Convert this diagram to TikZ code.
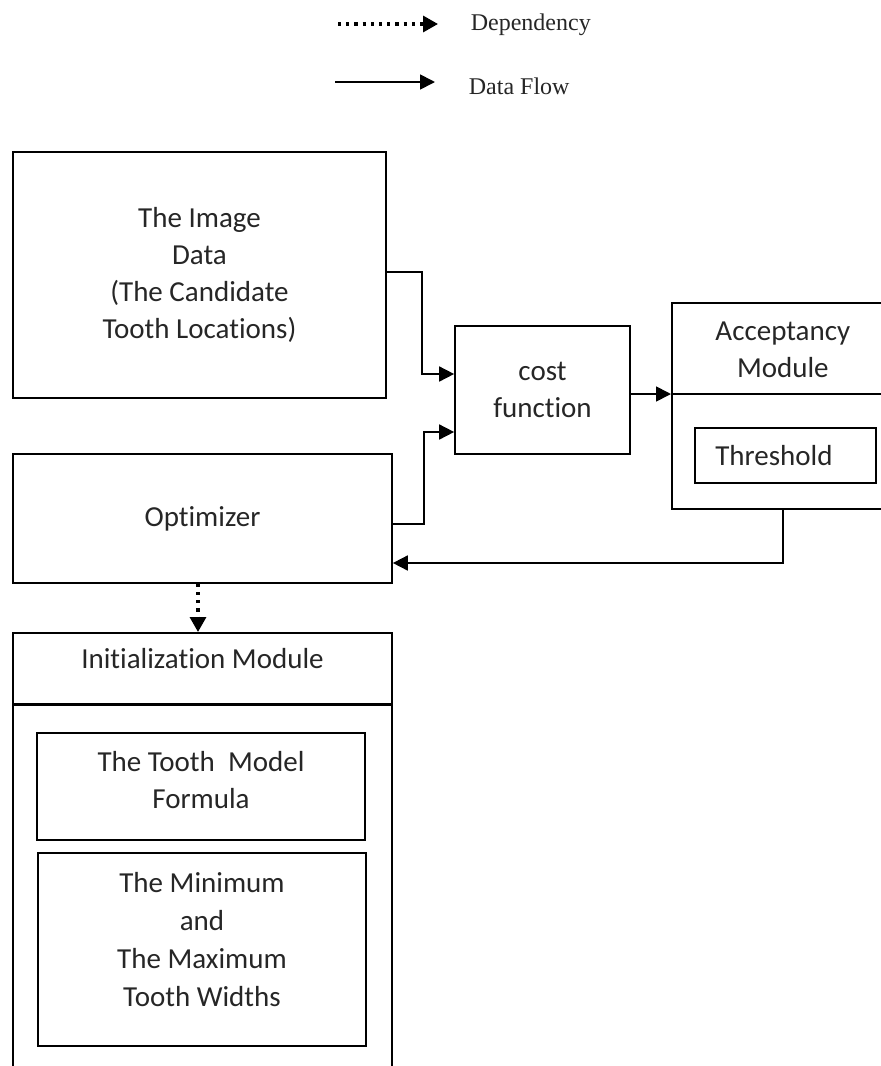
\documentclass[tikz,border=0pt]{standalone}
\usepackage{fontspec}
\setmainfont{Carlito}[Ligatures=NoCommon]
\newfontfamily\legendfont{Liberation Serif}
\usetikzlibrary{arrows.meta}
\begin{document}
\begin{tikzpicture}[x=1pt,y=-1pt,
  line width=1.7pt,
  box/.style={draw, rectangle, inner sep=0pt},
  lbl/.style={font=\fontsize{29}{37}\selectfont, align=center, inner sep=0pt, text=black!85},
  flow/.style={-{Triangle[length=15pt,width=15pt]}},
  dep/.style={-{Triangle[length=15pt,width=16pt]}, line width=3.2pt, dash pattern=on 3.2pt off 5pt},
  legtxt/.style={font=\legendfont\fontsize{24}{28}\selectfont, anchor=base west, inner sep=0pt, text=black!85}
]
\useasboundingbox (0,0) rectangle (881,1066);
\begin{scope}
\clip (0,0) rectangle (881,1066);

% legend
\coordinate (depA) at (338,24);
\coordinate (depB) at (438,24);
\draw[dep] (depA) -- (depB);
\node[legtxt] (deptxt) at (470,30) {Dependency};
\coordinate (flA) at (335,82);
\coordinate (flB) at (435,82);
\draw[flow] (flA) -- (flB);
\node[legtxt] (fltxt) at (468,94) {Data Flow};

% image data
\node[box, lbl, minimum width=373pt, minimum height=246pt] (img) at (199.5,275)
  {The Image\\Data\\(The Candidate\\Tooth Locations)};

% cost function
\node[box, lbl, minimum width=175pt, minimum height=128pt] (cost) at (542.5,390)
  {cost\\function};

% optimizer
\node[box, lbl, minimum width=379pt, minimum height=129pt] (opt) at (202.5,518.5)
  {Optimizer};

% acceptancy module (runs off the right edge)
\node[box, minimum width=222pt, minimum height=206pt, anchor=north west] (acc) at (671,302) {};
\draw ([yshift=-92pt]acc.north west) -- ([yshift=-92pt]acc.north east);
\node[lbl] (acctxt) at ([yshift=-48pt]acc.north) {Acceptancy\\Module};
\node[box, minimum width=181pt, minimum height=55pt] (thr) at (785.5,455.5) {};
\node[lbl] (thrtxt) at ([xshift=-11.5pt]thr.center) {Threshold};

% initialization module (runs off the bottom edge)
\node[box, minimum width=379pt, minimum height=520pt, anchor=north] (init) at (202.5,632) {};
\draw[line width=3pt] ([yshift=-72pt]init.north west) -- ([yshift=-72pt]init.north east);
\node[lbl] (inittxt) at ([yshift=-27pt]init.north) {Initialization Module};

\node[box, minimum width=328pt, minimum height=107pt] (tooth) at (201,786.5) {};
\node[lbl] (toothtxt) at ([yshift=6.5pt]tooth.center) {The Tooth\ \ Model\\Formula};

\node[box, minimum width=328pt, minimum height=193pt] (minmax) at (202,949.5) {};
\node[lbl, font=\fontsize{29}{38.3}\selectfont] (minmaxtxt) at ([yshift=10pt]minmax.center)
  {The Minimum\\and\\The Maximum\\Tooth Widths};

% connectors
\draw[flow] ([yshift=3pt]img.east) -- ++(35,0) |- ([yshift=16pt]cost.west);
\draw[flow] ([yshift=-5.5pt]opt.east) -- ++(31,0) |- ([yshift=-42pt]cost.west);
\draw[flow] ([yshift=-4pt]cost.east) -- ([yshift=-4pt]cost.east -| acc.west);
\draw[flow] (acc.south) |- ([yshift=-44.5pt]opt.east);
\draw[dep] ([xshift=-4.5pt]opt.south) -- ([xshift=-4.5pt]init.north);
\end{scope}
\end{tikzpicture}
\end{document}
